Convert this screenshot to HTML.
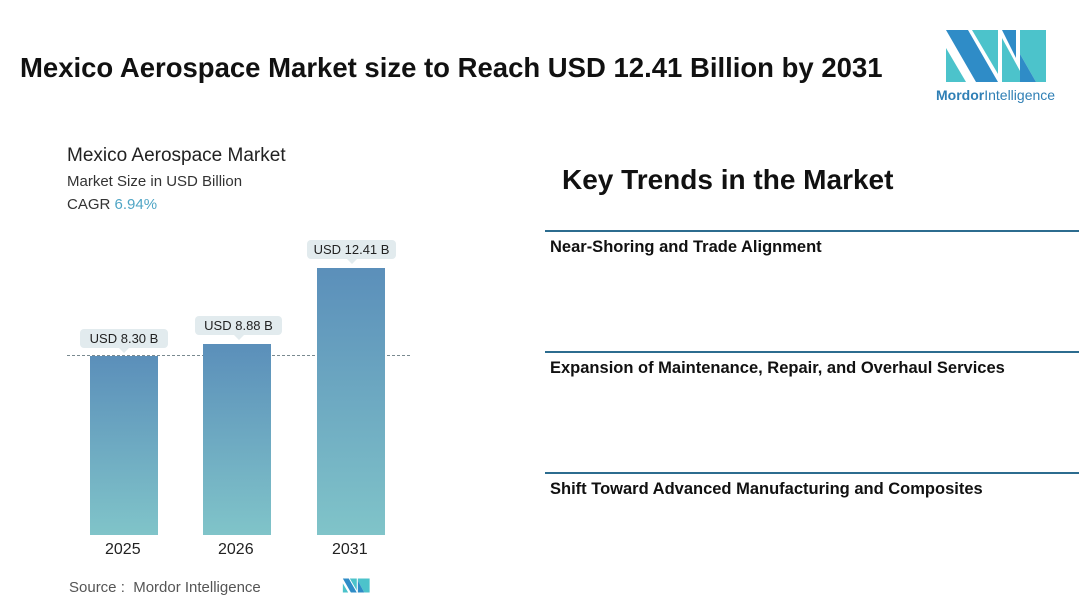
<!DOCTYPE html>
<html><head><meta charset="utf-8"><style>
body{margin:0;width:1080px;height:605px;background:#fff;position:relative;overflow:hidden;font-family:"Liberation Sans",sans-serif;}
.a{position:absolute;white-space:nowrap}
.bar{position:absolute;width:68px;background:linear-gradient(#5b8fba,#80c4c9);}
.pill{position:absolute;height:19px;background:#e2ebee;border-radius:4px;font-size:13px;line-height:19px;text-align:center;color:#222}
.pill:after{content:"";position:absolute;left:50%;bottom:-5px;margin-left:-5px;border:5px solid transparent;border-bottom:0;border-top-color:#e2ebee}
.line{position:absolute;left:545px;width:534px;height:2px;background:#2c6c8f}
.tr{position:absolute;left:550px;font-size:16.5px;font-weight:bold;color:#111}
</style></head><body>
<div class="a" style="left:20px;top:52px;font-size:27.5px;font-weight:bold;color:#111">Mexico Aerospace Market size to Reach USD 12.41 Billion by 2031</div>
<svg class="a" style="left:946px;top:28px" width="102" height="56" viewBox="0 0 102 56">
<polygon points="0,2 22,2 52,54 30,54" fill="#2f8cc7"/>
<polygon points="0,20 20,54 0,54" fill="#4cc3cb"/>
<polygon points="26,2 52,2 52,46" fill="#4cc3cb"/>
<polygon points="56,2 70,2 70,30" fill="#2f8cc7"/>
<polygon points="56,10 56,54 80,54" fill="#4cc3cb"/>
<polygon points="74,2 100,2 100,54 90,54 74,26" fill="#4cc3cb"/>
<polygon points="74,26 90,54 74,54" fill="#2f8cc7"/>
</svg>
<div class="a" style="left:936px;top:87px;font-size:14px;color:#2f7fb5"><b>Mordor</b>Intelligence</div>
<div class="a" style="left:67px;top:145px;font-size:19px;color:#222">Mexico Aerospace Market</div>
<div class="a" style="left:67px;top:173px;font-size:15px;color:#333">Market Size in USD Billion</div>
<div class="a" style="left:67px;top:196px;font-size:15px;color:#333">CAGR <span style="color:#4fa5c5">6.94%</span></div>
<div class="a" style="left:67px;top:355px;width:343px;border-top:1px dashed #7a8a90"></div>
<div class="bar" style="left:90px;top:356px;height:179px"></div>
<div class="bar" style="left:203px;top:344px;height:191px"></div>
<div class="bar" style="left:317px;top:268px;height:267px"></div>
<div class="pill" style="left:80px;top:329px;width:88px">USD 8.30 B</div>
<div class="pill" style="left:195px;top:316px;width:87px">USD 8.88 B</div>
<div class="pill" style="left:307px;top:240px;width:89px">USD 12.41 B</div>
<div class="a" style="left:105px;top:541px;font-size:16px;color:#222">2025</div>
<div class="a" style="left:218px;top:541px;font-size:16px;color:#222">2026</div>
<div class="a" style="left:332px;top:541px;font-size:16px;color:#222">2031</div>
<div class="a" style="left:69px;top:579px;font-size:15px;color:#555">Source : &nbsp;Mordor Intelligence</div>
<svg class="a" style="left:341px;top:578px" width="31" height="15" viewBox="0 0 102 56">
<polygon points="0,2 22,2 52,54 30,54" fill="#2f8cc7"/><polygon points="0,20 20,54 0,54" fill="#4cc3cb"/>
<polygon points="26,2 52,2 52,46" fill="#4cc3cb"/><polygon points="56,2 100,2 100,54 80,54 56,10" fill="#4cc3cb"/><polygon points="56,10 80,54 56,54" fill="#2f8cc7"/></svg>
<div class="a" style="left:562px;top:164px;font-size:28px;font-weight:bold;color:#111">Key Trends in the Market</div>
<div class="line" style="top:230px"></div>
<div class="tr" style="top:238px">Near-Shoring and Trade Alignment</div>
<div class="line" style="top:351px"></div>
<div class="tr" style="top:359px">Expansion of Maintenance, Repair, and Overhaul Services</div>
<div class="line" style="top:472px"></div>
<div class="tr" style="top:480px">Shift Toward Advanced Manufacturing and Composites</div>
</body></html>
